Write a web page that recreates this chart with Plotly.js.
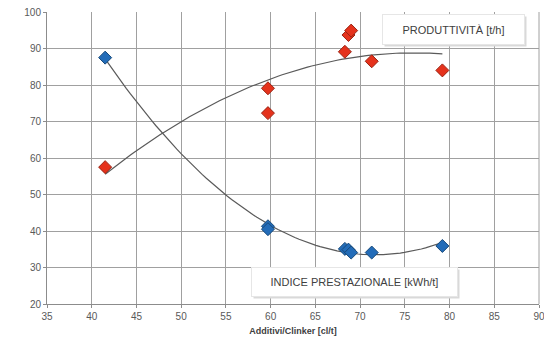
<!DOCTYPE html>
<html><head><meta charset="utf-8">
<script src="https://cdn.plot.ly/plotly-3.0.1.min.js"></script>
<style>html,body{margin:0;padding:0;background:#fff}#c{width:544px;height:343px}</style>
</head><body><div id="c"></div>
<script>
// Data
const prodX = [41.5, 59.7, 59.7, 68.3, 68.7, 69.0, 71.3, 79.2];
const prodY = [57.5, 79.1, 72.3, 89.1, 93.7, 94.9, 86.5, 84.0];
const indX  = [41.5, 59.7, 59.7, 68.3, 68.7, 69.0, 71.3, 79.2];
const indY  = [87.5, 41.3, 40.5, 35.1, 34.9, 34.1, 34.1, 35.9];
const xTicks = [35, 40, 45, 50, 55, 60, 65, 70, 75, 80, 85, 90];
const yTicks = [20, 30, 40, 50, 60, 70, 80, 90, 100];
const labelProd = 'PRODUTTIVITÀ [t/h]';
const labelInd = 'INDICE PRESTAZIONALE [kWh/t]';
const xTitle = 'Additivi/Clinker [cl/t]';

// quadratic least-squares trendline (like Excel's polynomial order 2)
function polyFit2(xs, ys) {
  let n = xs.length, s = [0,0,0,0,0], t = [0,0,0];
  for (let i = 0; i < n; i++) {
    let p = 1;
    for (let k = 0; k < 5; k++) { s[k] += p; if (k < 3) t[k] += p * ys[i]; p *= xs[i]; }
  }
  const A = [[s[0],s[1],s[2],t[0]],[s[1],s[2],s[3],t[1]],[s[2],s[3],s[4],t[2]]];
  for (let i = 0; i < 3; i++) {
    for (let j = i+1; j < 3; j++) {
      const f = A[j][i] / A[i][i];
      for (let k = i; k < 4; k++) A[j][k] -= f * A[i][k];
    }
  }
  const c = [0,0,0];
  for (let i = 2; i >= 0; i--) {
    let v = A[i][3];
    for (let k = i+1; k < 3; k++) v -= A[i][k] * c[k];
    c[i] = v / A[i][i];
  }
  return c;
}
function trend(xs, ys) {
  const c = polyFit2(xs, ys);
  const lo = Math.min(...xs), hi = Math.max(...xs);
  const tx = [], ty = [];
  for (let i = 0; i <= 80; i++) { const x = lo + (hi - lo) * i / 80; tx.push(x); ty.push(c[0] + c[1]*x + c[2]*x*x); }
  return {tx, ty};
}
const tp = trend(prodX, prodY), ti = trend(indX, indY);

const traces = [
  {x: tp.tx, y: tp.ty, mode: 'lines', line: {color: '#5a5a5a', width: 1.2}, hoverinfo: 'skip'},
  {x: ti.tx, y: ti.ty, mode: 'lines', line: {color: '#5a5a5a', width: 1.2}, hoverinfo: 'skip'},
  {x: prodX, y: prodY, mode: 'markers', marker: {symbol: 'diamond', size: 10, color: '#e5321c', line: {color: '#9a2312', width: 1}}},
  {x: indX, y: indY, mode: 'markers', marker: {symbol: 'diamond', size: 10, color: '#236cb8', line: {color: '#184a7a', width: 1}}}
];

const tickFont = {family: 'Liberation Sans, Arial, sans-serif', size: 10, color: '#595959'};
const layout = {
  width: 544, height: 343,
  margin: {l: 47, r: 5, t: 12, b: 39},
  paper_bgcolor: '#fff', plot_bgcolor: '#fff',
  showlegend: false,
  xaxis: {
    range: [35, 90], tickvals: xTicks, ticktext: xTicks.map(String),
    showgrid: true, gridcolor: '#a0a0a0', gridwidth: 1,
    showline: true, linecolor: '#8c8c8c', ticks: 'outside', ticklen: 3, tickcolor: '#8c8c8c',
    zeroline: false, tickfont: tickFont, ticklabeloverflow: 'allow',
    title: {text: '<b>' + xTitle + '</b>', font: {family: 'Liberation Sans, Arial, sans-serif', size: 9, color: '#404040'}, standoff: 6}
  },
  yaxis: {
    range: [20, 100], tickvals: yTicks, ticktext: yTicks.map(String),
    showgrid: true, gridcolor: '#a0a0a0', gridwidth: 1,
    showline: true, linecolor: '#8c8c8c', ticks: 'outside', ticklen: 3, tickcolor: '#8c8c8c',
    zeroline: false, tickfont: tickFont
  },
  shapes: [
    {type: 'line', xref: 'paper', yref: 'paper', x0: 1, x1: 1, y0: 0, y1: 1, line: {color: '#a0a0a0', width: 1}}
  ],
  annotations: [
    {xref: 'x', yref: 'y', x: 80.4, y: 95.3, text: '', showarrow: false, width: 141, height: 29, bgcolor: '#d9d9d9', borderpad: 0, xshift: 2, yshift: -2},
    {xref: 'x', yref: 'y', x: 80.4, y: 95.3, text: labelProd, showarrow: false, width: 141, height: 29, bgcolor: '#ffffff', bordercolor: '#e6e6e6', borderwidth: 1, borderpad: 0,
     font: {family: 'Liberation Sans, Arial, sans-serif', size: 11, color: '#404040'}},
    {xref: 'x', yref: 'y', x: 69.35, y: 26.1, text: '', showarrow: false, width: 205, height: 28, bgcolor: '#d9d9d9', borderpad: 0, xshift: 2, yshift: -2},
    {xref: 'x', yref: 'y', x: 69.35, y: 26.1, text: labelInd, showarrow: false, width: 205, height: 28, bgcolor: '#ffffff', bordercolor: '#e6e6e6', borderwidth: 1, borderpad: 0,
     font: {family: 'Liberation Sans, Arial, sans-serif', size: 11, color: '#404040'}}
  ]
};
Plotly.newPlot('c', traces, layout, {staticPlot: true, displayModeBar: false});
</script>
</body></html>
